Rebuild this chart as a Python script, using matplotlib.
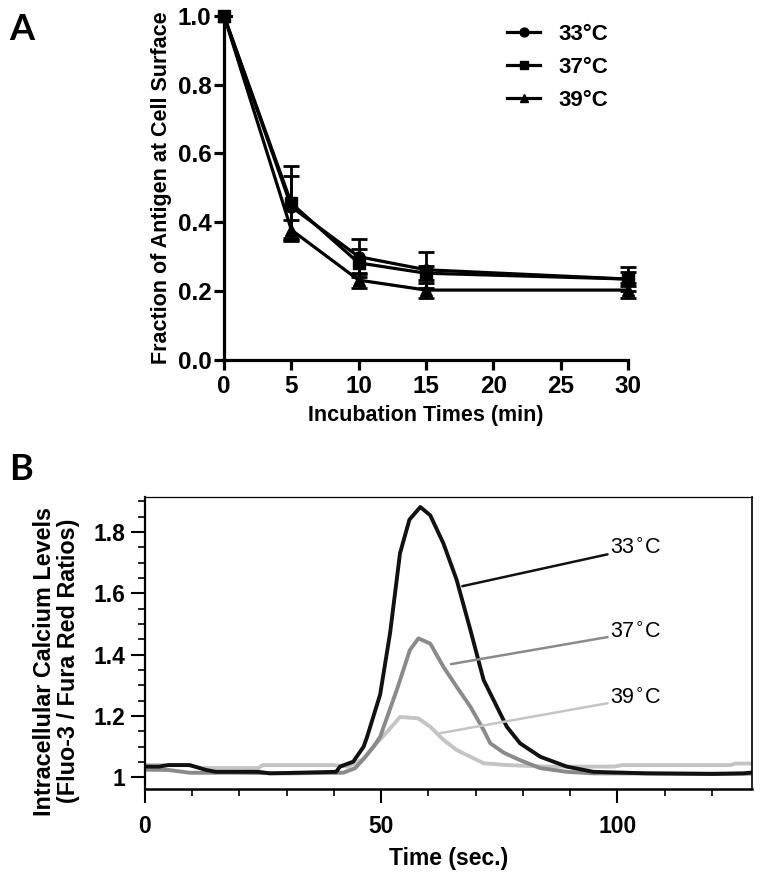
import numpy as np
import matplotlib
matplotlib.use("Agg")
from matplotlib import pyplot as plt

plt.rcParams['font.family'] = ['Liberation Sans', 'DejaVu Sans']

# ---- Panel A data: internalisation over time ----
tempos = [0, 5, 10, 15, 30]
rotulos_a = ["33°C", "37°C", "39°C"]
frac_33 = [1.0, 0.445, 0.300, 0.262, 0.235]
frac_37 = [1.0, 0.455, 0.282, 0.252, 0.235]
frac_39 = [1.0, 0.378, 0.232, 0.203, 0.203]
erro_33 = [0, 0.090, 0.050, 0.053, 0.035]
erro_37 = [0, 0.110, 0.040, 0.020, 0.020]
erro_39 = [0, 0.030, 0.022, 0.022, 0.022]
marcadores = ['o', 's', '^']

# ---- Panel B data: calcium traces ----
t_33 = [0, 3, 5, 9.5, 13, 15, 24, 26.5, 40.5, 41.3, 44.1, 46.3, 47.0, 49.8, 51.9, 54.0, 56.0,
        58.3, 60.4, 63.2, 66.0, 68.9, 71.7, 73.8, 76.6, 79.4, 83.7, 89.3, 94.9, 106.3, 120.3,
        126.7, 128.5]
ca_33 = [1.035, 1.035, 1.040, 1.040, 1.024, 1.018, 1.018, 1.013, 1.018, 1.035, 1.051, 1.100,
         1.130, 1.270, 1.470, 1.730, 1.840, 1.881, 1.854, 1.762, 1.643, 1.480, 1.317, 1.252,
         1.165, 1.111, 1.067, 1.035, 1.018, 1.013, 1.011, 1.013, 1.016]
t_37 = [0, 5, 9.5, 20, 30, 42, 44.5, 46.3, 48.4, 49.8, 53.3, 56.1, 57.9, 60.4, 63.2, 66.0, 68.9,
        71.7, 73.1, 76.0, 79.4, 83.7, 89.3, 94.9, 128.5]
ca_37 = [1.025, 1.024, 1.015, 1.015, 1.013, 1.015, 1.030, 1.060, 1.100, 1.132, 1.284, 1.415,
         1.453, 1.436, 1.360, 1.295, 1.230, 1.154, 1.111, 1.080, 1.056, 1.030, 1.018, 1.013, 1.012]
t_39 = [0, 5, 9, 12, 24, 25, 40, 43, 46.3, 48.4, 50.5, 52.5, 54.0, 57.9, 60.4, 63.2, 66.0, 68.9,
        71.7, 76.6, 85.1, 99.2, 101, 108.4, 123.9, 125, 128.5]
ca_39 = [1.040, 1.040, 1.040, 1.030, 1.030, 1.040, 1.040, 1.035, 1.060, 1.100, 1.135, 1.170,
         1.197, 1.192, 1.165, 1.122, 1.089, 1.067, 1.046, 1.040, 1.035, 1.035, 1.040, 1.040,
         1.040, 1.045, 1.045]
rotulos_b = ["33$^{\\circ}$C", "37$^{\\circ}$C", "39$^{\\circ}$C"]
cores_b = ['#111111', '#8a8a8a', '#c4c4c4']
# label anchor (text) and line start on the curve, in data units
pos_texto = [(98.5, 1.747), (98.5, 1.473), (98.5, 1.258)]
pos_curva = [(67.2, 1.623), (64.8, 1.369), (62.5, 1.144)]

fig = plt.figure(figsize=(7.62, 8.8), dpi=100)

# ================= Panel A =================
axA = fig.add_axes([0.294, 0.591, 0.530, 0.391])
conts = []
for y, e, m, r in zip([frac_33, frac_37, frac_39], [erro_33, erro_37, erro_39], marcadores, rotulos_a):
    c = axA.errorbar(tempos, y, yerr=e, color='k', lw=2.3, marker=m, ms=8, capsize=6, capthick=2,
                     elinewidth=2, label=r, clip_on=False, zorder=3)
    conts.append(c)
axA.set_xlim(0, 30)
axA.set_ylim(0, 1.0)
axA.set_xticks([0, 5, 10, 15, 20, 25, 30])
axA.set_yticks([0.0, 0.2, 0.4, 0.6, 0.8, 1.0])
axA.set_yticklabels(["%.1f" % v for v in [0.0, 0.2, 0.4, 0.6, 0.8, 1.0]])
for s in ['top', 'right']:
    axA.spines[s].set_visible(False)
for s in ['left', 'bottom']:
    axA.spines[s].set_linewidth(2.3)
axA.tick_params(width=2.3, length=7, labelsize=17.5, pad=2)
axA.tick_params(axis='x', pad=4)
for lb in axA.get_xticklabels() + axA.get_yticklabels():
    lb.set_fontweight('bold')
axA.set_xlabel("Incubation Times (min)", fontsize=15.5, fontweight='bold', labelpad=5)
axA.set_ylabel("Fraction of Antigen at Cell Surface", fontsize=15.5, fontweight='bold', labelpad=4)
leg = axA.legend(handles=[c.lines[0] for c in conts], labels=rotulos_a, loc='upper right',
                 bbox_to_anchor=(1.0, 1.035), frameon=False, fontsize=16, handlelength=1.5,
                 labelspacing=0.55, handletextpad=0.8, markerscale=0.8)
for tx in leg.get_texts():
    tx.set_fontweight('bold')

fig.text(0.012, 0.955, "A", fontsize=26, fontweight='bold', family=['Lato', 'DejaVu Sans'])

# ================= Panel B =================
axB = fig.add_axes([0.190, 0.1034, 0.797, 0.3316])
for t, c, cor in zip([t_39, t_37, t_33], [ca_39, ca_37, ca_33], cores_b[::-1]):
    axB.plot(t, c, color=cor, lw=2.8)
for r, cor, pt, pc in zip(rotulos_b, cores_b, pos_texto, pos_curva):
    axB.annotate(r, xy=pc, xytext=pt, fontsize=15.5, va='center', ha='left',
                 arrowprops=dict(arrowstyle='-', color=cor, lw=1.8, shrinkA=0, shrinkB=0))
axB.set_xlim(0, 128.5)
axB.set_ylim(0.962, 1.913)
axB.set_xticks([0, 50, 100])
axB.set_xticks(np.arange(0, 129, 10), minor=True)
axB.set_yticks([1.0, 1.2, 1.4, 1.6, 1.8])
axB.set_yticklabels(["1", "1.2", "1.4", "1.6", "1.8"])
axB.set_yticks(np.arange(1.0, 1.91, 0.05), minor=True)
axB.spines['left'].set_linewidth(1.6)
axB.spines['bottom'].set_linewidth(1.8)
axB.spines['top'].set_linewidth(0.9)
axB.spines['right'].set_linewidth(1.2)
axB.tick_params(which='major', length=10, width=1.5, labelsize=16.5, pad=4)
axB.tick_params(axis='x', which='major', pad=9)
axB.tick_params(which='minor', length=5, width=1.2)
for lb in axB.get_xticklabels() + axB.get_yticklabels():
    lb.set_fontweight('bold')
axB.set_xlabel("Time (sec.)", fontsize=16.5, fontweight='bold', labelpad=6)
axB.set_ylabel("Intracellular Calcium Levels\n(Fluo-3 / Fura Red Ratios)", fontsize=16.8,
               fontweight='bold', linespacing=1.05)
axB.yaxis.set_label_coords(-0.107, 0.438)

fig.text(0.012, 0.455, "B", fontsize=26, fontweight='bold', family=['Lato', 'DejaVu Sans'])

fig.savefig("out.png", dpi=100)
